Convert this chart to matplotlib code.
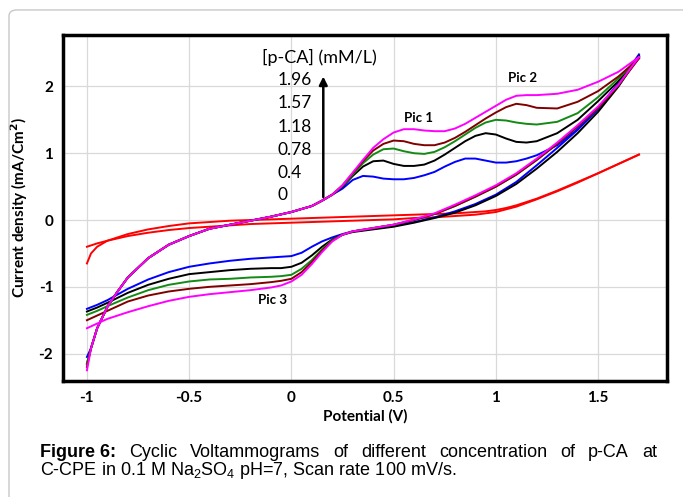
import matplotlib
matplotlib.use('Agg')
import matplotlib.pyplot as plt
from matplotlib.patches import FancyBboxPatch

plt.rcParams['font.family'] = ['Lato', 'DejaVu Sans']
plt.rcParams['axes.unicode_minus'] = False

# potential grids (V)
E_fwd = [-1.0, -0.98, -0.95, -0.9, -0.85, -0.8, -0.7, -0.6, -0.5, -0.4, -0.3, -0.2, -0.1, 0.0, 0.1, 0.15, 0.2,
         0.25, 0.3, 0.35, 0.4, 0.45, 0.5, 0.55, 0.6, 0.65, 0.7, 0.75, 0.8, 0.85, 0.9, 0.95, 1.0, 1.05, 1.1, 1.15,
         1.2, 1.3, 1.4, 1.5, 1.6, 1.7]
E_rev = [1.7, 1.6, 1.5, 1.4, 1.3, 1.2, 1.1, 1.0, 0.9, 0.8, 0.7, 0.6, 0.5, 0.4, 0.3,
         0.25, 0.2, 0.15, 0.1, 0.05, 0.0, -0.05, -0.1, -0.2, -0.3, -0.4, -0.5, -0.6, -0.7, -0.8, -0.9, -0.95, -1.0]

# forward scan, shared part from -0.98 to 0.2 V
fwd_low = [-1.92, -1.62, -1.30, -1.07, -0.86, -0.57, -0.37, -0.24, -0.13, -0.07, -0.01, 0.05, 0.12, 0.21, 0.29, 0.38]

# current density (mA/cm2), forward scans
I_fwd_0 = [-0.65, -0.50, -0.40, -0.31, -0.26, -0.21, -0.14, -0.09, -0.05, -0.03, -0.01, 0.0, 0.01, 0.02, 0.03, 0.035,
           0.04, 0.045, 0.05, 0.055, 0.06, 0.065, 0.07, 0.075, 0.08, 0.085, 0.09, 0.095, 0.10, 0.11, 0.12, 0.13, 0.15,
           0.18, 0.22, 0.27, 0.32, 0.44, 0.57, 0.70, 0.84, 0.98]
I_fwd_04 = [-2.05] + fwd_low + [0.47, 0.60, 0.66, 0.65, 0.62, 0.61, 0.61, 0.63, 0.67, 0.72, 0.80, 0.87, 0.92, 0.92,
                                0.89, 0.86, 0.86, 0.88, 0.92, 0.97, 1.12, 1.36, 1.68, 2.05, 2.48]
I_fwd_078 = [-2.15] + fwd_low + [0.50, 0.66, 0.80, 0.88, 0.89, 0.84, 0.81, 0.81, 0.83, 0.89, 0.98, 1.08, 1.18, 1.26,
                                 1.30, 1.28, 1.22, 1.17, 1.16, 1.18, 1.30, 1.50, 1.78, 2.08, 2.45]
I_fwd_118 = [-2.15] + fwd_low + [0.51, 0.68, 0.85, 0.98, 1.06, 1.07, 1.03, 1.00, 0.99, 1.02, 1.09, 1.18, 1.28, 1.38,
                                 1.46, 1.50, 1.49, 1.46, 1.44, 1.43, 1.47, 1.60, 1.84, 2.12, 2.43]
I_fwd_157 = [-2.2] + fwd_low + [0.52, 0.70, 0.88, 1.04, 1.14, 1.19, 1.18, 1.14, 1.12, 1.12, 1.16, 1.23, 1.32, 1.42,
                                1.52, 1.61, 1.69, 1.74, 1.72, 1.68, 1.67, 1.77, 1.93, 2.15, 2.42]
I_fwd_196 = [-2.25] + fwd_low + [0.52, 0.71, 0.90, 1.08, 1.21, 1.31, 1.36, 1.36, 1.34, 1.33, 1.33, 1.37, 1.44, 1.53,
                                 1.62, 1.71, 1.80, 1.86, 1.87, 1.87, 1.89, 1.95, 2.07, 2.22, 2.44]

# reverse scans
I_rev_0 = [0.98, 0.84, 0.70, 0.56, 0.43, 0.31, 0.20, 0.12, 0.08, 0.06, 0.04, 0.03, 0.01, 0.0, -0.01,
           -0.015, -0.02, -0.025, -0.03, -0.035, -0.04, -0.045, -0.05, -0.06, -0.08, -0.10, -0.12, -0.15, -0.19,
           -0.24, -0.31, -0.35, -0.40]
I_rev_04 = [2.46, 2.02, 1.66, 1.35, 1.08, 0.82, 0.57, 0.38, 0.24, 0.13, 0.04, -0.03, -0.09, -0.13, -0.17,
            -0.21, -0.26, -0.32, -0.40, -0.49, -0.54, -0.55, -0.56, -0.58, -0.61, -0.65, -0.70, -0.78, -0.89,
            -1.03, -1.20, -1.27, -1.33]
I_rev_078 = [2.45, 2.00, 1.62, 1.30, 1.02, 0.77, 0.54, 0.36, 0.22, 0.11, 0.03, -0.04, -0.10, -0.14, -0.18,
             -0.22, -0.29, -0.40, -0.53, -0.64, -0.70, -0.72, -0.72, -0.73, -0.75, -0.78, -0.81, -0.88, -0.97,
             -1.09, -1.24, -1.31, -1.37]
I_rev_118 = [2.43, 2.02, 1.68, 1.40, 1.14, 0.90, 0.68, 0.50, 0.35, 0.21, 0.09, 0.00, -0.07, -0.12, -0.17,
             -0.22, -0.30, -0.44, -0.60, -0.73, -0.82, -0.84, -0.85, -0.86, -0.88, -0.89, -0.92, -0.97, -1.05,
             -1.16, -1.29, -1.36, -1.42]
I_rev_157 = [2.42, 2.02, 1.68, 1.40, 1.14, 0.90, 0.68, 0.50, 0.35, 0.21, 0.09, 0.00, -0.07, -0.12, -0.17,
             -0.22, -0.31, -0.46, -0.63, -0.78, -0.88, -0.91, -0.93, -0.96, -0.98, -1.00, -1.03, -1.07, -1.13,
             -1.22, -1.36, -1.43, -1.50]
I_rev_196 = [2.44, 2.03, 1.70, 1.42, 1.16, 0.92, 0.70, 0.52, 0.37, 0.23, 0.10, 0.01, -0.07, -0.12, -0.17,
             -0.22, -0.32, -0.48, -0.66, -0.82, -0.92, -0.98, -1.01, -1.05, -1.08, -1.11, -1.15, -1.21, -1.29,
             -1.38, -1.48, -1.55, -1.62]

curves = [(I_fwd_0, I_rev_0, '#ff0000'),
          (I_fwd_04, I_rev_04, '#0000ff'),
          (I_fwd_078, I_rev_078, '#000000'),
          (I_fwd_118, I_rev_118, '#138a13'),
          (I_fwd_157, I_rev_157, '#800000'),
          (I_fwd_196, I_rev_196, '#ff00ff')]

conc_labels = ['1.96', '1.57', '1.18', '0.78', '0.4', '0']
conc_y = [2.10, 1.75, 1.39, 1.05, 0.70, 0.37]

fig = plt.figure(figsize=(6.83, 4.97), dpi=100)

# light rounded frame around the figure panel
fig.patches.append(FancyBboxPatch((9 / 683, -0.1), 1.2, 1.08, boxstyle='round,pad=0,rounding_size=0.012',
                                  transform=fig.transFigure, fc='none', ec='#c8c8c8', lw=1.0))

ax = fig.add_axes([63 / 683, 1 - 381 / 497, 604 / 683, 346 / 497])
for i_f, i_r, c in curves:
    ax.plot(E_fwd, i_f, color=c, lw=1.4)
    ax.plot(E_rev, i_r, color=c, lw=1.4)

ax.set_xlim(-1.117, 1.837)
ax.set_ylim(-2.41, 2.77)
ax.set_xticks([-1, -0.5, 0, 0.5, 1, 1.5])
ax.set_xticklabels(['-1', '-0.5', '0', '0.5', '1', '1.5'])
ax.set_yticks([-2, -1, 0, 1, 2])
ax.grid(color='#d9d9d9', lw=0.9)
ax.set_axisbelow(True)
ax.tick_params(length=0, labelsize=11, pad=7)
for lab in ax.get_xticklabels() + ax.get_yticklabels():
    lab.set_fontweight('bold')
for s in ax.spines.values():
    s.set_linewidth(2.5)

ax.set_xlabel('Potential (V)', fontsize=11, fontweight='bold', labelpad=3)
ax.set_ylabel('Current density (mA/Cm$^\\mathbf{2}$)', fontsize=11, fontweight='bold', labelpad=6)

# concentration arrow and labels
ax.text(0.137, 2.44, '[p-CA] (mM/L)', fontsize=13, ha='center', va='center')
for lab, y in zip(conc_labels, conc_y):
    ax.text(-0.068, y, lab, fontsize=12.5, ha='left', va='center')
ax.annotate('', xy=(0.156, 2.19), xytext=(0.156, 0.30),
            arrowprops=dict(arrowstyle='-|>', color='black', lw=1.8, mutation_scale=12))

ax.text(0.62, 1.53, 'Pic 1', fontsize=9.5, fontweight='bold', ha='center', va='center')
ax.text(1.13, 2.13, 'Pic 2', fontsize=9.5, fontweight='bold', ha='center', va='center')
ax.text(-0.09, -1.2, 'Pic 3', fontsize=9.5, fontweight='bold', ha='center', va='center')

# caption, first line justified between x0 and x1
cap_font = ['Liberation Sans', 'DejaVu Sans']
cap_size = 13
x0, x1 = 40 / 683, 657 / 683
y1, y2 = 1 - 457 / 497, 1 - 475 / 497
words = ['Figure 6:', 'Cyclic', 'Voltammograms', 'of', 'different', 'concentration', 'of', 'p-CA', 'at']
txts = []
for k, w in enumerate(words):
    txts.append(fig.text(x0, y1, w, fontsize=cap_size, family=cap_font,
                         fontweight='bold' if k == 0 else 'normal', va='baseline'))
fig.text(x0, y2, 'C-CPE in 0.1 M Na$_\\mathregular{2}$SO$_\\mathregular{4}$ pH=7, Scan rate 100 mV/s.',
         fontsize=cap_size, family=cap_font, va='baseline')

fig.canvas.draw()
r = fig.canvas.get_renderer()
widths = [t.get_window_extent(r).width / fig.bbox.width for t in txts]
gap = (x1 - x0 - sum(widths)) / (len(txts) - 1)
x = x0
for t, w in zip(txts, widths):
    t.set_x(x)
    x += w + gap

fig.savefig('out.png', dpi=100)
